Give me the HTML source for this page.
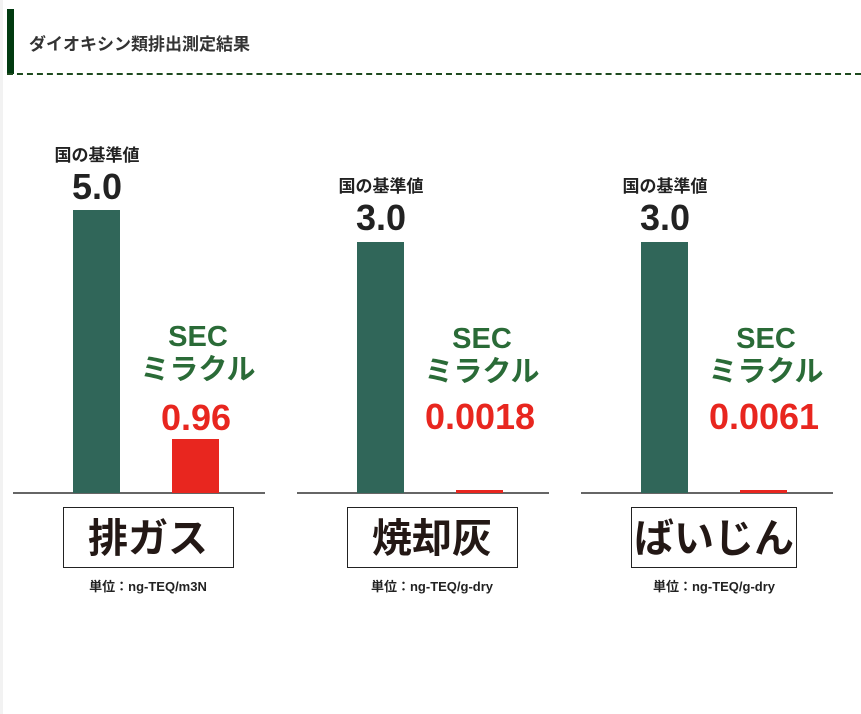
<!DOCTYPE html>
<html><head><meta charset="utf-8"><style>
*{margin:0;padding:0;box-sizing:border-box}
body{width:861px;height:714px;background:#fff;position:relative;overflow:hidden;font-family:"Liberation Sans","Noto Sans CJK JP",sans-serif}
.a{position:absolute}
.t{position:absolute;text-align:center;font-weight:bold;white-space:nowrap;transform:translateX(-50%)}
</style></head><body>
<div class="a" style="left:0;top:0;width:3px;height:714px;background:#f2f2f2"></div>
<div class="a" style="left:7px;top:9px;width:7px;height:65px;background:#013a10"></div>
<div class="a" style="left:29px;top:30px;font-size:17px;font-weight:bold;color:#333">ダイオキシン類排出測定結果</div>
<div class="a" style="left:7px;top:73px;width:854px;border-top:2px dashed #1d4a1d"></div>

<!-- panel 1 -->
<div class="a" style="left:13px;top:492px;width:252px;height:2px;background:#666"></div>
<div class="a" style="left:73px;top:210px;width:47px;height:283px;background:#306659"></div>
<div class="a" style="left:172px;top:439px;width:47px;height:54px;background:#e8261f"></div>
<div class="t" style="left:97px;top:141px;font-size:17px;color:#222">国の基準値</div>
<div class="t" style="left:97px;top:166px;font-size:36px;color:#222">5.0</div>
<div class="t" style="left:198px;top:321px;font-size:29px;color:#2a6b37;line-height:33px">SEC<br>ミラクル</div>
<div class="t" style="left:196px;top:397px;font-size:36px;color:#e8261f">0.96</div>
<div class="a" style="left:63px;top:507px;width:171px;height:61px;border:1.5px solid #222"></div>
<div class="t" style="left:148px;top:506px;font-size:40px;color:#231815">排ガス</div>
<div class="t" style="left:148px;top:576px;font-size:13px;color:#222">単位：ng-TEQ/m3N</div>

<!-- panel 2 -->
<div class="a" style="left:297px;top:492px;width:252px;height:2px;background:#666"></div>
<div class="a" style="left:357px;top:242px;width:47px;height:251px;background:#306659"></div>
<div class="a" style="left:456px;top:490px;width:47px;height:3px;background:#e8261f"></div>
<div class="t" style="left:381px;top:172px;font-size:17px;color:#222">国の基準値</div>
<div class="t" style="left:381px;top:197px;font-size:36px;color:#222">3.0</div>
<div class="t" style="left:482px;top:323px;font-size:29px;color:#2a6b37;line-height:33px">SEC<br>ミラクル</div>
<div class="t" style="left:480px;top:396px;font-size:36px;color:#e8261f">0.0018</div>
<div class="a" style="left:347px;top:507px;width:171px;height:61px;border:1.5px solid #222"></div>
<div class="t" style="left:432px;top:506px;font-size:40px;color:#231815">焼却灰</div>
<div class="t" style="left:432px;top:576px;font-size:13px;color:#222">単位：ng-TEQ/g-dry</div>

<!-- panel 3 -->
<div class="a" style="left:581px;top:492px;width:252px;height:2px;background:#666"></div>
<div class="a" style="left:641px;top:242px;width:47px;height:251px;background:#306659"></div>
<div class="a" style="left:740px;top:490px;width:47px;height:3px;background:#e8261f"></div>
<div class="t" style="left:665px;top:172px;font-size:17px;color:#222">国の基準値</div>
<div class="t" style="left:665px;top:197px;font-size:36px;color:#222">3.0</div>
<div class="t" style="left:766px;top:323px;font-size:29px;color:#2a6b37;line-height:33px">SEC<br>ミラクル</div>
<div class="t" style="left:764px;top:396px;font-size:36px;color:#e8261f">0.0061</div>
<div class="a" style="left:631px;top:507px;width:166px;height:61px;border:1.5px solid #222"></div>
<div class="t" style="left:714px;top:506px;font-size:40px;color:#231815">ばいじん</div>
<div class="t" style="left:714px;top:576px;font-size:13px;color:#222">単位：ng-TEQ/g-dry</div>
</body></html>
